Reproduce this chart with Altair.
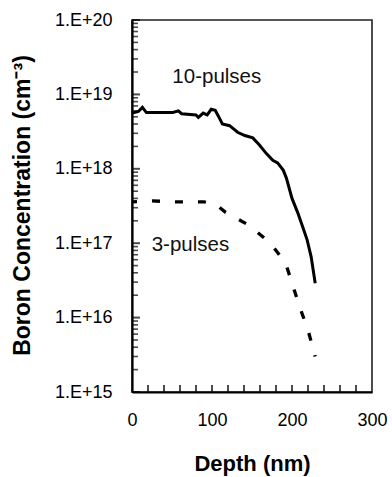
import altair as alt
import pandas as pd

# 10-pulses profile (solid)
depth_10 = [0, 8, 13, 18, 51, 58, 62, 80, 83, 89, 94, 99, 104, 108, 113, 122, 132, 141,
            151, 159, 168, 176, 182, 189, 193, 200, 207, 213, 219, 224, 229]
conc_10 = [5.6e18, 5.9e18, 6.7e18, 5.7e18, 5.7e18, 6.0e18, 5.5e18, 5.3e18, 4.9e18, 5.6e18,
           5.3e18, 6.3e18, 6.1e18, 5.1e18, 4.0e18, 3.8e18, 3.1e18, 2.8e18, 2.6e18, 2.1e18,
           1.6e18, 1.3e18, 1.2e18, 9.6e17, 7.5e17, 4.0e17, 2.6e17, 1.7e17, 1.1e17, 6.5e16, 2.9e16]

# 3-pulses profile (dashed)
depth_3 = [0, 25, 53, 90, 105, 117, 146, 173, 192, 201, 210, 220, 229]
conc_3 = [3.6e17, 3.7e17, 3.6e17, 3.6e17, 3.3e17, 2.6e17, 1.75e17, 1.0e17, 5.4e16,
          2.7e16, 1.35e16, 6.8e15, 3.0e15]

# annotations
label_text = ["10-pulses", "3-pulses"]
label_depth = [106, 73]
label_conc = [1.7e19, 9.5e16]

# axis ticks
x_labels = [0, 100, 200, 300]
x_ticks = [20, 40, 60, 80, 100, 120, 140, 160, 180, 200, 220, 240, 260, 280]
y_major = [1e15, 1e16, 1e17, 1e18, 1e19, 1e20]
y_mult = [2, 3, 4, 5, 6, 7, 8, 9]
y_decades = [1e15, 1e16, 1e17, 1e18, 1e19]
y_minor = [m * d for d in y_decades for m in y_mult]

FONT = "Liberation Sans"

df10 = pd.DataFrame({"depth": depth_10, "conc": conc_10})
df3 = pd.DataFrame({"depth": depth_3, "conc": conc_3})
dflab = pd.DataFrame({"text": label_text, "depth": label_depth, "conc": label_conc})

xs = alt.Scale(domain=[0, 300], nice=False, zero=False)
ys = alt.Scale(type="log", domain=[1e15, 1e20], nice=False)

x_axis = alt.Axis(
    values=x_labels, ticks=False, grid=False, labelFontSize=18, labelFont=FONT,
    labelColor="black", labelBaseline="middle", labelPadding=28, labelFlush=False,
    domainColor="black", domainWidth=2.2,
    title="Depth (nm)", titleFont=FONT, titleFontSize=22, titleFontWeight="bold",
    titleColor="black", titleX=120, titleY=71, titleBaseline="middle", titleAlign="center",
)
y_axis = alt.Axis(
    values=y_major, ticks=False, grid=False, labelFontSize=18, labelFont=FONT,
    labelColor="black", labelPadding=20, labelFlush=False,
    labelExpr="'1.E+' + round(log(datum.value) / LN10)",
    domainColor="black", domainWidth=2.2,
    title="Boron Concentration (cm⁻³)", titleFont=FONT, titleFontSize=23,
    titleFontWeight="bold", titleColor="black", titleAngle=270, titleX=-110, titleY=185,
    titleBaseline="middle", titleAlign="center",
)

line10 = alt.Chart(df10).mark_line(color="black", strokeWidth=3).encode(
    x=alt.X("depth:Q", scale=xs, axis=x_axis),
    y=alt.Y("conc:Q", scale=ys, axis=y_axis),
    order="depth:Q",
)
line3 = alt.Chart(df3).mark_line(color="black", strokeWidth=3.3, strokeDash=[8, 15],
                                  strokeDashOffset=3).encode(
    x=alt.X("depth:Q", scale=xs), y=alt.Y("conc:Q", scale=ys), order="depth:Q",
)
labels = alt.Chart(dflab).mark_text(font=FONT, fontSize=20.5, color="#111",
                                    align="center", baseline="middle").encode(
    x=alt.X("depth:Q", scale=xs), y=alt.Y("conc:Q", scale=ys), text="text:N",
)

# inward tick marks
xt = alt.Chart(pd.DataFrame({"tick": x_ticks})).mark_tick(
    color="black", thickness=2, size=7, orient="vertical").encode(
    x=alt.X("tick:Q", scale=xs),
    y=alt.value(368.5),
)
ytM = alt.Chart(pd.DataFrame({"tick": y_major})).mark_tick(
    color="black", thickness=2, size=8, orient="horizontal").encode(
    y=alt.Y("tick:Q", scale=ys),
    x=alt.value(4),
)
ytm = alt.Chart(pd.DataFrame({"tick": y_minor})).mark_tick(
    color="black", thickness=1.6, size=6, orient="horizontal").encode(
    y=alt.Y("tick:Q", scale=ys),
    x=alt.value(3),
)

chart = alt.layer(line10, line3, labels, xt, ytM, ytm).properties(
    width=240, height=372,
    autosize=alt.AutoSizeParams(type="none"),
    padding={"left": 132, "top": 20, "right": 20, "bottom": 85},
    background="white",
).configure_view(stroke="#222", strokeWidth=1.6)

chart.save("out.html", embed_options={"renderer": "svg", "actions": False})
